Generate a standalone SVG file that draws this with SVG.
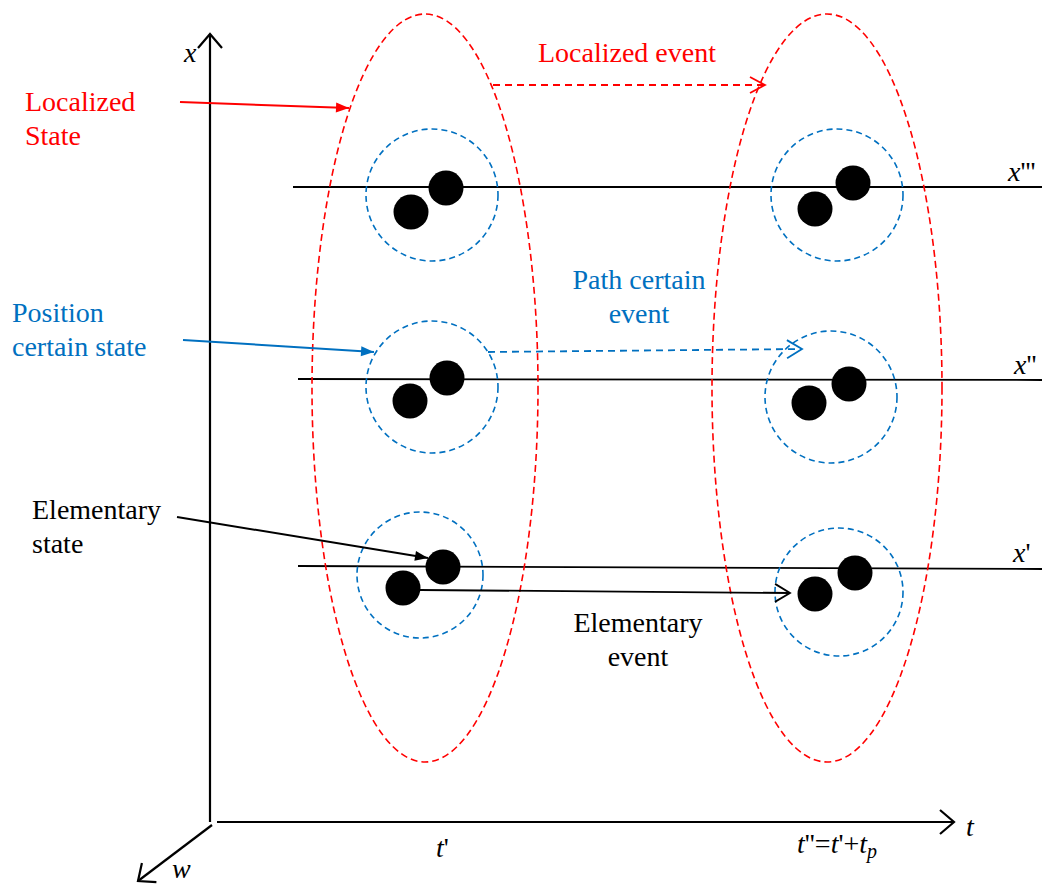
<svg xmlns="http://www.w3.org/2000/svg" width="1042" height="884" viewBox="0 0 1042 884" font-family="'Liberation Serif', 'Times New Roman', serif" font-size="28">
<style>
.it{font-style:italic}
.red{fill:#FF0000}
.blue{fill:#0070C0}
.blk{fill:#000}
.axis{stroke:#000;stroke-width:2.2;fill:none}
.hl{stroke:#000;stroke-width:1.8;fill:none}
.rell{stroke:#FF0000;stroke-width:1.6;fill:none;stroke-dasharray:7 4}
.bcir{stroke:#0070C0;stroke-width:1.6;fill:none;stroke-dasharray:6 4}
.dot{fill:#000}
</style>
<defs>
<marker id="chevAx" viewBox="-16 -14 18 28" refX="0" refY="0" markerWidth="18" markerHeight="28" markerUnits="userSpaceOnUse" orient="auto" overflow="visible">
<path d="M-14,-12 L0,0 L-14,12" fill="none" stroke="#000" stroke-width="2.2"/>
</marker>
<marker id="chevBlk" viewBox="-16 -10 18 20" refX="0" refY="0" markerWidth="18" markerHeight="20" markerUnits="userSpaceOnUse" orient="auto" overflow="visible">
<path d="M-15,-9 L0,0 L-15,9" fill="none" stroke="#000" stroke-width="1.8"/>
</marker>
<marker id="chevRed" viewBox="-16 -10 18 20" refX="0" refY="0" markerWidth="18" markerHeight="20" markerUnits="userSpaceOnUse" orient="auto" overflow="visible">
<path d="M-15,-8 L0,0 L-15,8" fill="none" stroke="#FF0000" stroke-width="1.8"/>
</marker>
<marker id="chevBlue" viewBox="-16 -10 18 20" refX="0" refY="0" markerWidth="18" markerHeight="20" markerUnits="userSpaceOnUse" orient="auto" overflow="visible">
<path d="M-15,-9 L0,0 L-15,9" fill="none" stroke="#0070C0" stroke-width="1.8"/>
</marker>
<marker id="triRed" viewBox="-14 -6 15 12" refX="0" refY="0" markerWidth="15" markerHeight="12" markerUnits="userSpaceOnUse" orient="auto" overflow="visible">
<path d="M-13,-5 L0,0 L-13,5 Z" fill="#FF0000"/>
</marker>
<marker id="triBlue" viewBox="-14 -6 15 12" refX="0" refY="0" markerWidth="15" markerHeight="12" markerUnits="userSpaceOnUse" orient="auto" overflow="visible">
<path d="M-13,-5 L0,0 L-13,5 Z" fill="#0070C0"/>
</marker>
<marker id="triBlk" viewBox="-14 -6 15 12" refX="0" refY="0" markerWidth="15" markerHeight="12" markerUnits="userSpaceOnUse" orient="auto" overflow="visible">
<path d="M-13,-5 L0,0 L-13,5 Z" fill="#000"/>
</marker>
</defs>

<g id="axes">
<line class="axis" x1="210" y1="822" x2="210" y2="34" marker-end="url(#chevAx)"/>
<line class="axis" x1="217" y1="822" x2="954" y2="822" marker-end="url(#chevAx)"/>
<line class="axis" x1="212" y1="825" x2="138" y2="881" marker-end="url(#chevAx)"/>
<text class="it" x="184" y="62">x</text>
<text class="it" x="966" y="836">t</text>
<text class="it" x="172" y="878">w</text>
<text x="436" y="857"><tspan class="it">t</tspan>'</text>
<text x="797" y="853"><tspan class="it">t</tspan>''=<tspan class="it">t</tspan>'+<tspan class="it">t</tspan><tspan class="it" font-size="20" dy="5">p</tspan></text>
</g>

<g id="position-lines">
<line class="hl" x1="293" y1="187" x2="1042" y2="187"/>
<line class="hl" x1="298" y1="379" x2="1042" y2="380"/>
<line class="hl" x1="298" y1="566" x2="1042" y2="569"/>
<text x="1008" y="181"><tspan class="it">x</tspan>'''</text>
<text x="1014" y="374"><tspan class="it">x</tspan>''</text>
<text x="1013" y="562"><tspan class="it">x</tspan>'</text>
</g>

<g id="localized-state-left">
<ellipse class="rell" cx="425" cy="388" rx="113" ry="374"/>
</g>
<g id="localized-state-right">
<ellipse class="rell" cx="827" cy="388" rx="115" ry="374"/>
</g>

<g id="state-left-top">
<circle class="bcir" cx="432" cy="195" r="66"/>
<circle class="dot" cx="446" cy="188" r="17.5"/>
<circle class="dot" cx="411" cy="212" r="17.5"/>
</g>
<g id="state-left-mid">
<circle class="bcir" cx="432" cy="387" r="66"/>
<circle class="dot" cx="447" cy="378" r="17.5"/>
<circle class="dot" cx="410" cy="401" r="17.5"/>
</g>
<g id="state-left-bot">
<circle class="bcir" cx="420" cy="575" r="63"/>
<circle class="dot" cx="443" cy="567" r="17.5"/>
<circle class="dot" cx="403" cy="588" r="17.5"/>
</g>
<g id="state-right-top">
<circle class="bcir" cx="837" cy="195" r="66"/>
<circle class="dot" cx="853" cy="183" r="17.5"/>
<circle class="dot" cx="815" cy="209" r="17.5"/>
</g>
<g id="state-right-mid">
<circle class="bcir" cx="831" cy="397" r="66"/>
<circle class="dot" cx="849" cy="384" r="17.5"/>
<circle class="dot" cx="809" cy="403" r="17.5"/>
</g>
<g id="state-right-bot">
<circle class="bcir" cx="839" cy="592" r="64"/>
<circle class="dot" cx="855" cy="573" r="17.5"/>
<circle class="dot" cx="815" cy="594" r="17.5"/>
</g>

<g id="connectors">
<line x1="180" y1="102" x2="349" y2="108" stroke="#FF0000" stroke-width="2" marker-end="url(#triRed)"/>
<line x1="493" y1="85" x2="765" y2="85" stroke="#FF0000" stroke-width="1.8" stroke-dasharray="7 5" marker-end="url(#chevRed)"/>
<line x1="183" y1="340" x2="374" y2="352" stroke="#0070C0" stroke-width="2" marker-end="url(#triBlue)"/>
<line x1="488" y1="352" x2="802" y2="349" stroke="#0070C0" stroke-width="1.8" stroke-dasharray="7 5" marker-end="url(#chevBlue)"/>
<line x1="177" y1="517" x2="428" y2="558" stroke="#000" stroke-width="2" marker-end="url(#triBlk)"/>
<line x1="420" y1="590" x2="790" y2="593" stroke="#000" stroke-width="1.8" marker-end="url(#chevBlk)"/>
</g>

<g id="labels">
<text class="red" x="538" y="62">Localized event</text>
<text class="red" x="25" y="111">Localized</text>
<text class="red" x="25" y="145">State</text>
<text class="blue" x="12" y="322">Position</text>
<text class="blue" x="12" y="356">certain state</text>
<text class="blue" x="639" y="289" text-anchor="middle">Path certain</text>
<text class="blue" x="639" y="323" text-anchor="middle">event</text>
<text class="blk" x="32" y="519">Elementary</text>
<text class="blk" x="32" y="553">state</text>
<text class="blk" x="638" y="632" text-anchor="middle">Elementary</text>
<text class="blk" x="638" y="666" text-anchor="middle">event</text>
</g>
</svg>
